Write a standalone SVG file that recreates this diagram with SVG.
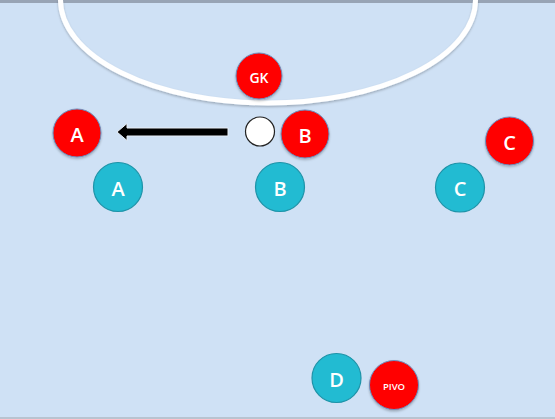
<svg xmlns="http://www.w3.org/2000/svg" width="555" height="419" viewBox="0 0 555 419">
<defs>
<style>
.red{fill:#ff0000;stroke:#6a8fbf;stroke-width:1}
.teal{fill:#22bbd2;stroke:#1e93a8;stroke-width:1.2}
.lbl{fill:#ffffff;font-family:"Open Sans","Liberation Sans",sans-serif;font-weight:600;text-anchor:middle;dominant-baseline:central}
</style>
<filter id="sh" x="-20%" y="-20%" width="140%" height="140%">
<feDropShadow dx="0" dy="1.5" stdDeviation="1" flood-color="#000" flood-opacity="0.25"/>
</filter>
</defs>
<rect x="0" y="0" width="555" height="419" fill="#cfe1f5"/>
<rect x="0" y="0" width="555" height="3" fill="#98a4b5"/>
<rect x="0" y="417" width="555" height="2" fill="#b8c3d0"/>
<path d="M60.5,0 A207.5,103 0 0 0 475.5,0" fill="none" stroke="#ffffff" stroke-width="5" filter="url(#sh)"/>
<g id="connectors">
<path d="M228,128 L127,128 L127,123.5 L117,132 L127,140.5 L127,136 L228,136 Z" fill="#000000" stroke="#e8eef6" stroke-width="1"/>
</g>
<g id="gk"><circle class="red" cx="259" cy="76" r="23" filter="url(#sh)"/><text class="lbl" x="259" y="77" font-size="14">GK</text></g>
<g id="ball"><circle cx="260" cy="131.5" r="14.5" fill="#ffffff" stroke="#222222" stroke-width="1.2"/></g>
<g id="redA"><circle class="red" cx="77" cy="133" r="24" filter="url(#sh)"/><text class="lbl" x="77" y="134" font-size="20">A</text></g>
<g id="redB"><circle class="red" cx="305" cy="134" r="24" filter="url(#sh)"/><text class="lbl" x="305" y="135" font-size="20">B</text></g>
<g id="redC"><circle class="red" cx="509.5" cy="141" r="24" filter="url(#sh)"/><text class="lbl" x="509.5" y="142" font-size="20">C</text></g>
<g id="tealA"><circle class="teal" cx="118" cy="187" r="24.5"/><text class="lbl" x="118" y="188" font-size="20">A</text></g>
<g id="tealB"><circle class="teal" cx="280" cy="187" r="24.5"/><text class="lbl" x="280" y="188" font-size="20">B</text></g>
<g id="tealC"><circle class="teal" cx="460" cy="187.5" r="24.5"/><text class="lbl" x="460" y="188.5" font-size="20">C</text></g>
<g id="tealD"><circle class="teal" cx="336.5" cy="378" r="24.5"/><text class="lbl" x="336.5" y="379" font-size="20">D</text></g>
<g id="pivo"><circle class="red" cx="394" cy="385" r="24.5" filter="url(#sh)"/><text class="lbl" x="394" y="386" font-size="9.5">PIVO</text></g>
</svg>
